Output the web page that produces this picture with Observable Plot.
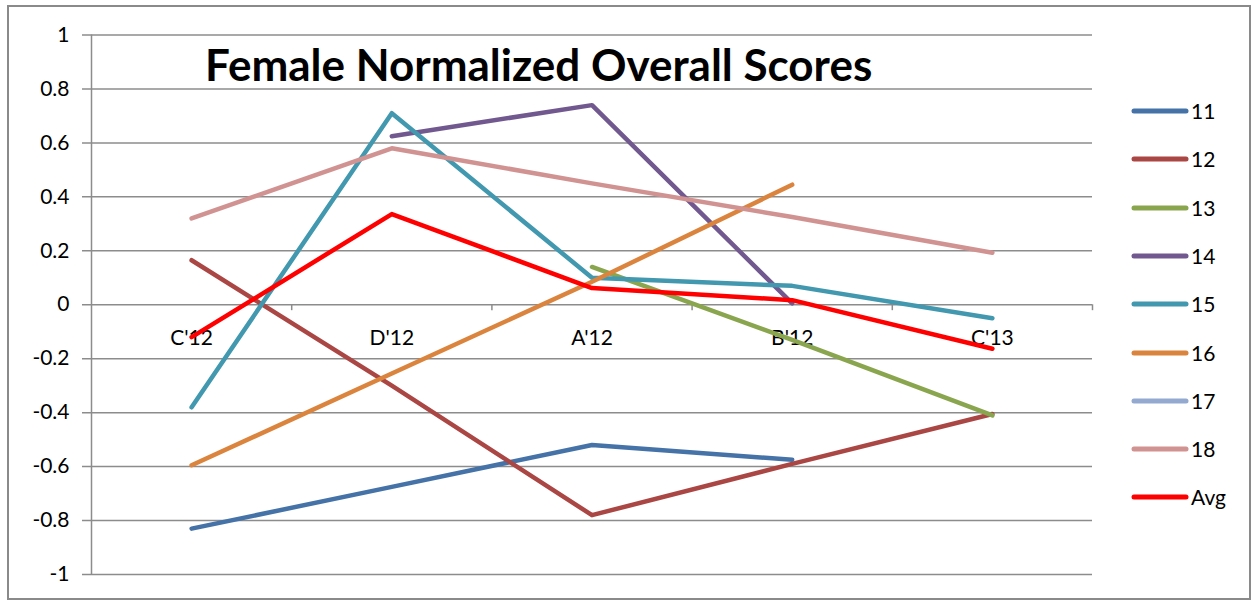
<!DOCTYPE html>
<html><head><meta charset="utf-8">
<script src="https://cdn.jsdelivr.net/npm/d3@7"></script>
<script src="https://cdn.jsdelivr.net/npm/@observablehq/plot@0.6"></script>
<style>
html,body{margin:0;padding:0;background:#fff;}
#wrap{position:relative;width:1255px;height:605px;font-family:Lato,"Open Sans",sans-serif;}
#frame{position:absolute;left:7px;top:5px;width:1244px;height:595px;border:2px solid #8a8a8a;box-sizing:border-box;pointer-events:none;}
#title{position:absolute;left:205px;top:42px;font-size:44px;font-weight:bold;color:#000;white-space:nowrap;line-height:1;}
#legend{position:absolute;left:1130px;top:0;}
.li{position:absolute;left:0;width:120px;height:24px;}
.li svg{position:absolute;left:0;top:0;}
.li span{position:absolute;left:61px;top:0;font-size:21px;line-height:24px;color:#000;}
</style></head>
<body><div id="wrap"><div id="chart"></div><div id="title">Female Normalized Overall Scores</div><div id="legend"></div><div id="frame"></div></div>
<script>
const categories = ["C'12","D'12","A'12","B'12","C'13"];
const seriesNames = ["11","12","13","14","15","16","17","18","Avg"];
const colors = ["#4572A7","#AA4643","#89A54E","#71588F","#4198AF","#DB843D","#93A9CF","#D19392","#FF0000"];
const s11 = [-0.83, -0.675, -0.52, -0.575, null];
const s12 = [0.165, -0.30, -0.78, -0.59, -0.405];
const s13 = [null, null, 0.14, -0.13, -0.41];
const s14 = [null, 0.625, 0.74, 0.005, null];
const s15 = [-0.38, 0.71, 0.10, 0.07, -0.05];
const s16 = [-0.595, -0.255, 0.085, 0.445, null];
const s17 = [null, null, null, null, null];
const s18 = [0.32, 0.58, 0.45, 0.325, 0.193];
const sAvg = [-0.12, 0.336, 0.062, 0.017, -0.163];
const yTicks = [-1,-0.8,-0.6,-0.4,-0.2,0,0.2,0.4,0.6,0.8,1];

const allSeries = [s11,s12,s13,s14,s15,s16,s17,s18,sAvg];
const data = [];
allSeries.forEach((vals, si) => vals.forEach((v, ci) => data.push({series: seriesNames[si], i: ci, value: v == null ? undefined : v})));
const bounds = categories.map((c, i) => i + 0.5);
const labelRows = categories.map((c, i) => ({i, label: c, zero: 0}));

const chart = Plot.plot({
  width: 1255, height: 605,
  marginLeft: 91, marginRight: 163, marginTop: 34.5, marginBottom: 31,
  x: {type: "linear", domain: [-0.5, 4.5], axis: null},
  y: {domain: [-1, 1], axis: null},
  color: {domain: seriesNames, range: colors},
  style: {fontFamily: "Lato, 'Open Sans', sans-serif", background: "transparent"},
  marks: [
    Plot.ruleY(yTicks, {x1: -0.545, x2: 4.5, stroke: "#8c8c8c", strokeWidth: 1.5}),
    Plot.ruleX([-0.5], {stroke: "#8c8c8c", strokeWidth: 1.5}),
    Plot.ruleX(bounds, {y1: 0, y2: -0.022, stroke: "#8c8c8c", strokeWidth: 1.5}),
    Plot.text(yTicks, {x: -0.5, y: d => d, text: d => String(d), dx: -22, textAnchor: "end", fontSize: 21, fill: "#000"}),
    Plot.text(labelRows, {x: "i", y: "zero", text: "label", dy: 34, fontSize: 21, fill: "#000"}),
    Plot.line(data, {x: "i", y: "value", z: "series", stroke: "series", strokeWidth: 4.5, strokeLinecap: "round", strokeLinejoin: "round"})
  ]
});
document.getElementById("chart").appendChild(chart);

// legend
const leg = document.getElementById("legend");
seriesNames.forEach((name, k) => {
  const div = document.createElement("div");
  div.className = "li";
  div.style.top = (111 - 12 + k * 48.3) + "px";
  div.innerHTML = `<svg width="60" height="24"><line x1="4" x2="56" y1="12" y2="12" stroke="${colors[k]}" stroke-width="5" stroke-linecap="round"/></svg><span>${name}</span>`;
  leg.appendChild(div);
});
</script></body></html>
